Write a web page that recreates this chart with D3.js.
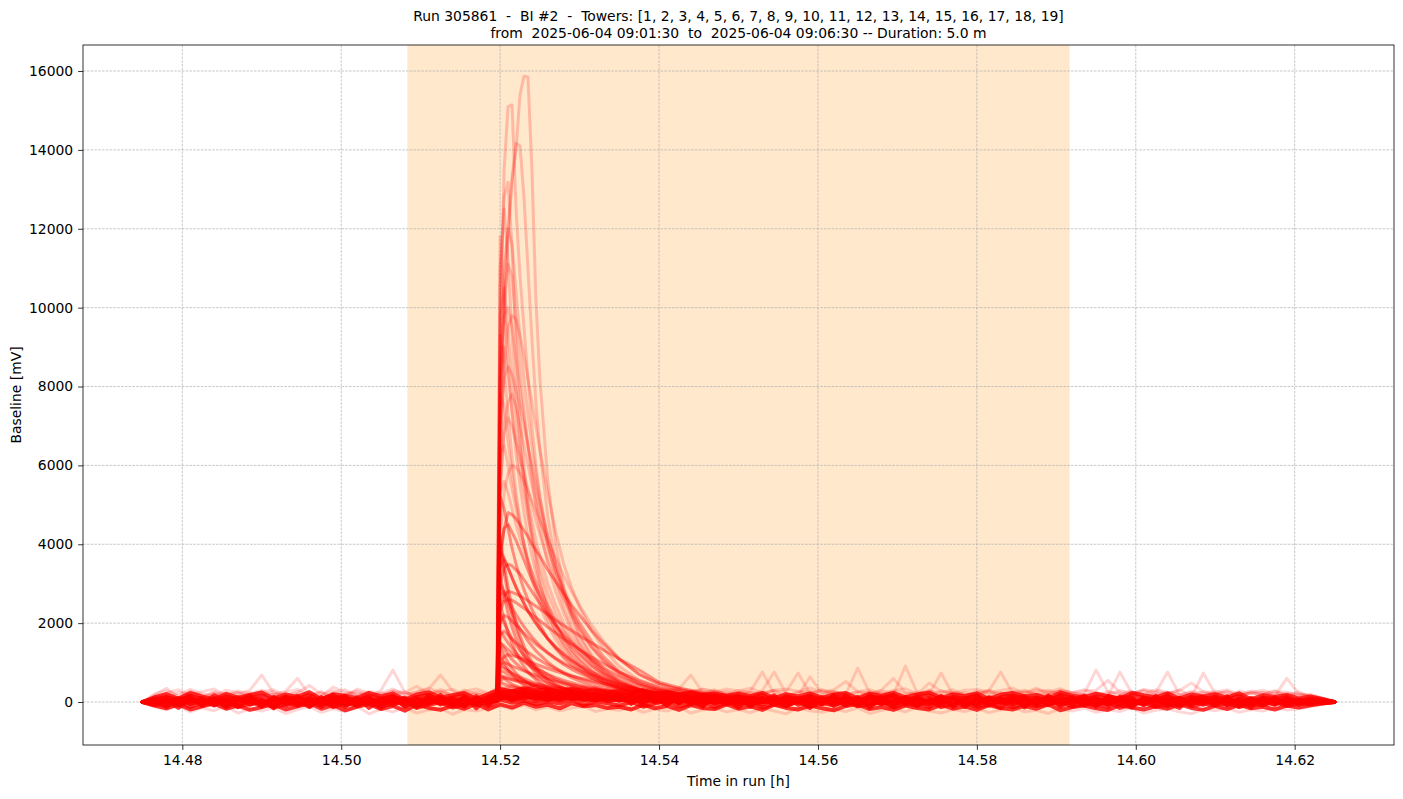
<!DOCTYPE html>
<html>
<head>
<meta charset="utf-8">
<script src="https://cdn.jsdelivr.net/npm/d3@7"></script>
<style>
  html, body { margin: 0; padding: 0; background: #fff; }
  svg text { font-family: "DejaVu Sans", sans-serif; fill: #000; }
</style>
</head>
<body>
<svg id="chart" width="1403" height="799"></svg>
<script>
// ---------------- DATA ----------------
const titleLine1 = "Run 305861  -  BI #2  -  Towers: [1, 2, 3, 4, 5, 6, 7, 8, 9, 10, 11, 12, 13, 14, 15, 16, 17, 18, 19]";
const titleLine2 = "from  2025-06-04 09:01:30  to  2025-06-04 09:06:30 -- Duration: 5.0 m";
const xLabel = "Time in run [h]";
const yLabel = "Baseline [mV]";

const xTicks = [14.48, 14.50, 14.52, 14.54, 14.56, 14.58, 14.60, 14.62];
const yTicks = [0, 2000, 4000, 6000, 8000, 10000, 12000, 14000, 16000];

// shaded interval (time in run, h): 09:01:30 -> 09:06:30
const spanStart = 14.50833;
const spanEnd = 14.59167;

// baseline sample times: 14.475 h to 14.625 h every 0.0015 h (101 samples)
const baseStart = 14.475, baseStep = 0.0015, baseCount = 101;

// core baseline channels (mV)
const base1 = [0,40,-60,80,-30,110,-90,50,120,-70, 30,-110,90,10,-80,130,-40,70,-100,60, -20,100,-120,40,90,-60,20,-90,110,-30, 150,60,180,20,140,90,170,30,120,80, 130,-20,110,60,-50,100,20,120,-40,70, 10,-90,80,-30,110,-70,40,90,-100,50, -20,120,-60,30,100,-110,60,-30,90,-80, 20,110,-50,70,-100,40,130,-20,80,-90, 50,-60,100,-10,70,-120,30,90,-50,60, -80,110,-30,40,-90,70,-40,50,-20,30,0];
const base2 = [0,-50,70,-20,100,-100,60,-40,90,20, -120,80,-30,110,40,-70,100,-90,30,120, -60,50,90,-100,10,130,-50,80,-20,60, 220,120,90,160,60,130,100,150,40,110, 70,120,10,90,130,-30,80,40,110,-60, 90,30,-70,120,-20,60,100,-50,80,-90, 40,-40,110,-80,20,90,-30,120,-60,50, -100,80,30,-70,110,-40,60,-90,100,10, -50,120,-80,40,-30,90,-110,60,20,-70, 100,-20,70,-60,80,-30,50,-40,30,-10,0];
const base3 = [0,20,110,-80,40,-20,90,-110,30,70, -40,60,-90,20,120,-50,-10,100,-70,40, 80,-30,20,-80,120,-20,70,30,-60,90, 80,190,140,110,40,160,70,100,140,20, 100,50,130,-10,80,60,-40,110,30,90, -60,60,110,-40,50,90,-80,30,120,-20, 70,-90,50,130,-30,80,10,-70,110,40, -60,90,-20,120,-80,30,-40,100,-10,60, 110,-40,20,-100,80,40,-60,110,-30,70, 30,-70,90,-20,50,-60,80,-30,40,-20,0];
const base4 = [0,-40,-100,20,-130,-10,-70,30,-120,-50, 10,-140,-60,-20,-110,40,-130,-30,-80,0, -120,-40,20,-150,-70,-10,-140,-50,30,-100, 60,-20,40,-60,20,-40,70,-80,10,-30, -90,0,-120,-40,30,-110,-60,10,-130,-20, -70,20,-140,-50,-100,10,-120,-30,-80,20, -110,-60,0,-140,-40,-90,20,-130,-50,-10, -120,-70,10,-140,-30,-100,-60,20,-130,-40, -80,0,-150,-60,-20,-120,-70,10,-110,-40, -90,-20,-130,-50,-80,0,-100,-40,-60,-20,0];
const base5 = [0,70,130,50,150,80,20,140,60,110, 160,40,120,90,170,30,130,100,50,150, 90,140,30,120,170,60,110,150,20,130, 250,280,230,260,200,240,190,230,170,210, 160,200,130,180,110,170,90,150,120,60, 140,100,170,40,130,90,160,70,120,150, 30,140,100,160,60,120,170,50,130,90, 150,20,120,160,80,110,40,170,100,60, 140,90,30,160,110,70,150,40,120,90, 130,60,150,20,110,80,120,40,90,50,0];
const base6 = [0,10,50,-30,70,10,-60,40,-20,90, -70,20,60,-50,10,80,-100,50,0,-40, 70,-80,40,10,-40,90,-70,20,60,-50, 100,260,210,180,150,190,120,160,90,140, 50,110,80,30,120,-10,70,90,-30,60, 20,-50,90,40,-60,80,-20,60,10,-70, 90,0,-50,70,20,-80,100,-10,40,-60, 60,-30,80,-10,50,-70,90,0,-40,70, -20,50,-60,80,-40,30,90,-50,20,-10, 60,-40,20,-70,50,0,-50,30,-10,20,0];
const base7 = [0,-20,30,-70,20,60,-40,100,-80,10, 50,-30,100,-60,60,-20,40,-120,80,-10, 30,60,-50,90,-30,40,100,-100,70,10, 120,90,200,70,170,40,140,60,90,120, 30,90,-20,120,50,20,100,-50,80,10, 60,-30,20,80,-100,40,70,-40,50,100, -60,60,-20,10,80,-40,30,70,-90,100, 40,-50,100,-30,20,80,-80,60,30,-20, 90,-70,60,10,-60,100,-20,-70,80,20, -40,70,-90,50,10,-70,60,10,-40,20,0];
const base8 = [0,60,-10,100,-50,40,80,-90,70,30, -60,110,20,-100,70,0,50,30,-50,90, -40,20,110,-60,50,0,-30,120,-80,40, 180,40,120,140,90,60,200,80,40,150, 110,30,60,140,0,120,50,80,60,110, 40,110,0,90,60,-20,110,20,-40,80, 50,90,130,-40,60,40,-70,90,70,20, -30,120,50,30,90,-50,100,40,130,-60, 70,20,110,-60,90,-20,60,100,-70,90, 20,80,-50,100,-30,90,-10,70,30,40,0];
const base9 = [0,90,-120,60,150,-80,100,-140,40,170, -100,130,-20,160,-130,70,180,-60,120,-150, 50,160,-110,90,-40,180,-90,130,-160,100, 260,150,300,180,240,120,270,160,210,90, 200,-50,180,100,-90,160,40,-120,150,60, -140,120,20,170,-110,60,150,-60,180,-30, 130,-150,90,180,-70,140,-20,160,-130,80, 170,-90,40,150,-140,110,-30,180,-80,130, -120,160,60,-140,120,-50,170,-100,70,140, -60,150,-110,90,-40,120,-80,60,-50,40,0];
const base10 = [0,-80,40,-150,90,-40,170,20,-130,110, 60,-160,140,-70,30,-120,80,150,-100,20, -150,120,60,-130,170,-40,40,-120,150,-80, 190,80,230,120,280,110,190,240,60,180, 40,160,-60,130,190,-30,110,-100,170,40, 160,-120,90,-70,140,30,-150,120,-40,160, -90,170,40,-120,130,-10,-140,120,60,-130, 110,-10,-160,90,150,-80,170,-120,40,160, -60,-130,140,110,-90,160,-40,-150,120,-20, 130,-90,50,-140,110,-30,90,-70,60,-30,0];
const base11 = [0,120,200,80,230,140,60,210,110,180, 240,90,190,130,250,70,200,160,100,230, 140,220,60,190,250,110,170,230,80,200, 330,270,350,300,320,260,340,280,300,250, 270,230,290,210,250,190,240,180,220,160, 210,150,230,100,200,140,220,110,190,230, 90,210,160,230,120,190,240,100,200,150, 220,80,190,230,140,180,90,240,160,120, 210,150,90,230,170,120,220,90,190,140, 200,110,220,70,170,130,180,90,140,80,0];
const base12 = [0,-90,-160,-60,-190,-110,-40,-170,-90,-200, -130,-60,-190,-110,-30,-170,-80,-210,-120,-50, -180,-100,-220,-60,-150,-200,-90,-170,-40,-190, -60,-140,-20,-120,-70,-160,-30,-110,-80,-150, -120,-190,-70,-160,-100,-200,-80,-150,-180,-60, -170,-110,-200,-70,-150,-190,-90,-160,-210,-100, -60,-180,-130,-200,-90,-150,-190,-70,-170,-110, -200,-80,-150,-190,-100,-170,-60,-210,-130,-90, -160,-200,-80,-140,-190,-110,-170,-60,-150,-200, -100,-180,-70,-160,-120,-190,-90,-140,-80,-40,0];

// noisier channels (faint fringe and occasional spikes), mV
const noisy1 = [0,180,350,120,200,60,220,140,250,90, 180,260,100,200,150,270,60,190,240,110, 300,810,250,140,210,320,160,230,90,180, 350,290,410,300,370,260,330,280,350,250, 300,220,280,190,260,330,685,240,200,270, 160,250,210,300,120,230,280,170,260,200, 860,240,150,280,220,190,310,130,250,200, 170,290,110,240,300,160,230,270,140,210, 810,250,180,280,130,230,200,310,150,260, 190,120,280,200,240,150,600,220,160,90,0];
const noisy2 = [0,120,200,90,280,150,230,100,190,300, 685,220,140,260,180,90,240,310,160,200, 110,270,190,240,330,685,280,150,210,130, 280,380,320,400,290,350,310,380,270,330, 240,290,200,260,310,180,250,210,290,160, 230,270,760,200,150,270,220,300,180,240, 130,260,210,180,910,230,140,290,200,160, 270,190,240,120,280,210,160,300,230,180, 240,150,760,220,280,170,250,200,130,735, 210,260,140,230,180,290,150,200,120,80,0];
const noisy3 = [0,150,90,240,170,110,260,190,80,230, 140,200,270,600,180,240,120,210,280,150, 230,170,260,110,190,250,140,300,200,160, 330,270,350,420,300,280,360,310,240,300, 270,320,230,290,250,200,280,220,310,190, 250,180,290,760,210,160,640,230,270,190, 240,170,290,210,150,260,200,735,180,240, 190,280,760,220,160,250,300,170,230,200, 150,270,210,190,300,230,760,180,250,160, 280,200,140,250,190,230,170,260,110,60,0];
const noisy4 = [0,200,280,160,320,210,140,300,230,180, 260,310,170,240,420,200,280,150,330,220, 180,290,240,400,200,270,320,190,250,210, 300,430,360,310,390,340,290,370,320,280, 310,260,340,280,230,300,250,330,270,220, 290,230,200,280,260,735,210,310,240,190, 270,220,300,600,240,190,280,230,310,170, 250,300,190,270,230,350,200,280,240,310, 220,190,290,240,200,310,250,180,270,230, 200,260,170,240,300,190,230,160,200,100,0];
const noisy5 = [0,-120,-200,-90,-250,-150,-220,-100,-280,-170, -230,-140,-290,-190,-120,-260,-170,-240,-110,-300, -180,-250,-140,-280,-200,-160,-310,-190,-230,-150, -100,-180,-80,-200,-130,-220,-150,-110,-240,-170, -210,-140,-260,-180,-230,-120,-280,-200,-150,-250, -190,-270,-160,-230,-300,-140,-220,-260,-180,-240, -150,-290,-210,-170,-250,-130,-230,-280,-190,-240, -160,-270,-200,-130,-250,-210,-290,-170,-230,-150, -260,-190,-240,-140,-280,-210,-170,-250,-300,-180, -220,-150,-260,-190,-230,-140,-200,-170,-120,-60,0];
const noisy6 = [0,100,230,310,190,260,330,170,280,220, 300,170,250,320,200,150,380,240,190,270, 220,330,180,260,350,240,190,280,330,230, 400,340,300,450,360,330,410,290,380,350, 320,370,290,340,300,360,270,320,250,330, 280,350,240,300,330,270,360,250,310,520, 260,310,220,290,340,200,480,270,230,300, 320,240,290,350,210,310,260,340,230,280, 300,550,250,210,320,270,230,290,480,260, 240,310,200,280,230,270,250,190,160,80,0];

// pulse samples around the event (time in run, h)
const pulseT = [14.5185,14.5196,14.5200,14.5205,14.5210,14.5215,14.5220,14.5225,14.5230,14.5235,14.5240,14.5245,14.5250,14.5260,14.5270,14.5280,14.5290,14.5300,14.5315,14.5330,14.5350,14.5375,14.5400,14.5430,14.5460,14.5500,14.5550,14.5600];

// large pulse channels (mV) at pulseT
const pulse1  = [0,60,6000,9500,11800,13200,14000,15400,15870,15850,13500,10200,8200,5600,4000,2900,2200,1700,1200,850,560,360,250,170,120,80,50,30];
const pulse2  = [0,80,9000,13500,15100,15140,12500,10800,9500,8200,7000,6000,5200,4000,3100,2400,1900,1500,1050,750,500,320,220,150,100,70,40,20];
const pulse3  = [0,50,7000,10500,12000,13300,14170,14100,12800,11000,9200,7600,6400,4700,3500,2700,2100,1650,1150,820,540,340,230,160,110,70,40,20];
const pulse4  = [0,40,10500,12800,13180,11500,9000,7200,6000,5000,4300,3700,3200,2500,2000,1600,1300,1050,780,580,390,250,170,120,80,50,30,10];
const pulse5  = [0,70,11000,12500,11200,9300,7800,6600,5600,4800,4100,3500,3000,2300,1800,1450,1150,950,700,520,350,230,160,110,80,50,30,10];
const pulse6  = [0,30,8000,11000,12000,11600,10400,9200,8200,7300,6500,5800,5200,4200,3400,2800,2300,1900,1400,1050,720,460,300,200,140,90,50,30];
const pulse7  = [0,50,7500,10200,11100,10800,9600,8400,7400,6500,5700,5000,4400,3500,2800,2250,1800,1450,1050,780,520,330,220,150,100,60,40,20];
const pulse8  = [0,40,9800,10500,9400,8200,7200,6400,5700,5100,4600,4100,3700,3000,2450,2000,1650,1350,1000,740,500,320,210,140,90,60,30,10];
const pulse9  = [0,60,6000,8500,9500,9800,9700,9300,8800,8200,7600,7000,6400,5300,4300,3500,2900,2400,1800,1350,900,560,380,250,170,110,60,30];
const pulse10 = [0,30,8200,9000,8300,7400,6600,5900,5300,4700,4200,3800,3400,2750,2250,1850,1520,1250,930,690,460,290,190,130,90,50,30,10];
const pulse11 = [0,50,7000,8200,8500,8300,7900,7500,7000,6500,6000,5500,5000,4200,3500,2900,2400,2000,1550,1150,780,490,320,210,140,90,50,20];
const pulse12 = [0,40,7800,7500,6600,5800,5100,4500,4000,3600,3200,2900,2600,2100,1700,1400,1150,950,700,520,350,220,150,100,70,40,20,10];
const pulse13 = [0,20,5500,6800,7200,7000,6600,6200,5800,5400,5000,4600,4250,3600,3050,2600,2200,1850,1400,1080,740,470,310,200,140,90,50,20];
const pulse14 = [0,30,6300,6500,6000,5400,4900,4400,4000,3600,3300,3000,2700,2200,1800,1500,1250,1050,790,590,400,260,170,120,80,50,30,10];
const pulse15 = [0,40,4200,5300,5800,6000,5950,5800,5600,5350,5100,4850,4600,4100,3650,3200,2800,2450,1950,1550,1100,700,460,290,190,120,70,30];
const pulse30 = [0,50,11800,10200,8600,7300,6300,5500,4800,4200,3700,3300,2950,2400,1950,1600,1320,1100,820,620,420,270,180,120,80,50,30,10];
const pulse31 = [0,40,8500,9800,10000,9500,8700,7900,7200,6500,5900,5350,4850,4000,3300,2700,2250,1850,1380,1030,690,430,280,180,120,80,40,20];
const pulse32 = [0,30,5200,7000,7600,7800,7500,7000,6500,6000,5500,5050,4650,3900,3300,2800,2350,2000,1520,1150,770,480,310,200,130,80,40,20];
const pulse33 = [0,50,5300,5600,5300,4900,4500,4150,3850,3550,3300,3050,2850,2450,2100,1800,1550,1330,1030,790,540,340,220,150,100,60,30,10];
const pulse36 = [0,60,9300,8500,7300,6200,5300,4600,4000,3500,3100,2750,2450,1950,1580,1290,1060,880,660,500,340,220,150,100,70,40,20,10];

// small pulse channels (mV) at pulseT
const pulse16 = [0,50,5200,4900,4400,3900,3500,3150,2850,2600,2350,2150,1950,1600,1350,1120,940,800,610,470,330,220,150,100,70,40,20,10];
const pulse17 = [0,30,3800,4400,4500,4300,4100,3850,3600,3350,3100,2900,2700,2300,1950,1650,1400,1200,920,700,480,310,210,140,90,60,30,10];
const pulse18 = [0,20,4000,3300,2700,2200,1850,1550,1300,1100,950,820,720,560,440,350,290,240,180,140,100,70,50,30,20,10,0,0];
const pulse19 = [0,40,3000,3400,3500,3450,3350,3250,3100,2950,2800,2650,2500,2200,1950,1700,1500,1320,1080,870,640,430,290,190,130,80,40,20];
const pulse20 = [0,30,3000,2800,2500,2250,2050,1850,1700,1550,1420,1300,1200,1010,860,730,620,530,420,330,240,160,110,80,50,30,20,10];
const pulse21 = [0,50,2300,2550,2600,2580,2520,2450,2380,2300,2220,2140,2060,1900,1750,1600,1460,1330,1140,970,760,540,370,240,160,100,50,20];
const pulse22 = [0,20,2200,2000,1800,1600,1450,1300,1180,1070,980,890,820,690,580,500,430,370,300,240,180,120,80,60,40,20,10,0];
const pulse23 = [0,30,1700,1800,1700,1600,1500,1420,1340,1260,1190,1120,1060,940,840,750,670,600,500,420,320,220,150,100,70,40,20,10];
const pulse24 = [0,40,1500,1350,1200,1080,980,890,810,740,680,620,570,480,410,350,300,260,210,170,130,90,60,40,30,20,10,0];
const pulse25 = [0,20,1000,1150,1200,1180,1150,1120,1080,1040,1000,960,920,850,780,720,660,610,540,470,390,300,220,150,100,60,30,10];
const pulse26 = [0,30,1000,900,800,720,650,590,540,490,450,410,380,320,270,230,200,170,140,110,80,60,40,30,20,10,0,0];
const pulse27 = [0,20,800,760,700,640,590,550,510,470,440,410,380,330,290,250,220,190,160,130,100,70,50,30,20,10,0,0];
const pulse28 = [0,40,620,650,610,570,530,500,470,440,410,390,370,330,300,270,240,220,190,160,130,100,70,50,30,20,10,0];
const pulse29 = [0,30,500,460,420,390,360,340,320,300,280,260,250,220,200,180,160,150,130,110,90,70,50,40,30,20,10,0];
const pulse34 = [0,30,3600,4400,4800,4750,4650,4500,4350,4200,4000,3850,3700,3350,3050,2750,2450,2200,1820,1480,1080,700,460,300,190,120,60,30];
const pulse35 = [0,40,3800,3650,3400,3150,2900,2700,2500,2300,2150,2000,1850,1600,1380,1190,1030,890,700,550,390,250,170,110,70,40,20,10];
const pulse37 = [0,30,2400,2700,2800,2780,2740,2690,2630,2570,2500,2430,2360,2220,2080,1940,1810,1680,1500,1320,1090,810,500,340,220,140,70,30];
const pulse38 = [0,40,2500,2100,1750,1480,1250,1060,900,770,660,570,490,370,290,230,180,150,110,80,60,40,30,20,10,0,0,0];
const pulse39 = [0,30,1800,1650,1500,1370,1250,1140,1040,950,870,800,730,620,530,450,390,330,260,200,140,90,60,40,30,20,10,0];
const pulse40 = [0,50,3200,2700,2250,1900,1600,1360,1160,990,850,730,630,480,380,300,240,200,150,110,80,50,40,30,20,10,0,0];
const pulse41 = [0,20,1200,1000,830,700,590,500,430,370,320,280,240,190,150,120,100,80,60,50,40,30,20,10,0,0,0,0];
const pulse42 = [0,40,2000,2200,2150,2050,1950,1850,1750,1650,1560,1470,1390,1240,1110,990,890,800,680,580,450,320,220,150,100,60,30,10];
const pulse43 = [0,30,900,850,790,730,680,630,590,550,510,480,450,390,340,300,260,230,190,150,110,80,60,40,30,20,10,0];
const pulse44 = [0,40,1500,1420,1330,1250,1170,1100,1030,970,910,850,800,700,620,550,490,430,360,300,230,160,110,70,50,30,20,10];
const pulse45 = [0,60,4200,3500,2900,2400,2000,1680,1420,1200,1020,870,750,570,440,350,280,230,170,130,90,60,40,30,20,10,0,0];
const pulse46 = [0,20,550,600,590,570,550,530,510,490,470,450,430,400,370,340,310,290,250,220,180,140,100,70,50,30,20,10];
const pulse47 = [0,30,2700,2800,2600,2400,2220,2060,1910,1780,1650,1540,1430,1250,1090,950,830,730,600,490,360,240,160,110,70,40,20,10];
const pulse48 = [0,50,950,1000,960,910,870,830,790,750,710,680,650,590,530,480,440,400,340,290,220,160,110,70,50,30,20,10];
const pulse49 = [0,40,3400,3600,3400,3150,2920,2700,2500,2320,2150,2000,1860,1610,1400,1220,1060,930,760,620,450,300,200,130,90,50,30,10];
const pulse50 = [0,30,1400,1180,1000,850,730,630,550,480,420,370,330,260,210,170,140,110,80,60,40,30,20,10,0,0,0,0];
const pulse51 = [0,20,700,600,520,450,400,350,310,280,250,220,200,160,130,110,90,80,60,50,40,30,20,10,0,0,0,0];

const coreSeries = [base1, base2, base3, base4, base5, base6, base7, base8, base9, base10, base11, base12];
const noisySeries = [noisy1, noisy2, noisy3, noisy4, noisy5, noisy6];
const largePulses = [pulse1,pulse2,pulse3,pulse4,pulse5,pulse6,pulse7,pulse8,pulse9,pulse10,pulse11,pulse12,pulse13,pulse14,pulse15,pulse30,pulse31,pulse32,pulse33,pulse36];
const smallPulses = [pulse16,pulse17,pulse18,pulse19,pulse20,pulse21,pulse22,pulse23,pulse24,pulse25,pulse26,pulse27,pulse28,pulse29,pulse34,pulse35,pulse37,pulse38,pulse39,pulse40,pulse41,pulse42,pulse43,pulse44,pulse45,pulse46,pulse47,pulse48,pulse49,pulse50,pulse51];

// ---------------- CHART ----------------
const W = 1403, H = 799;
const margin = {left: 83, top: 45, right: 9, bottom: 54};
const iw = W - margin.left - margin.right;
const ih = H - margin.top - margin.bottom;

const baseT = d3.range(baseCount).map(i => baseStart + i * baseStep);

const x = d3.scaleLinear().domain([14.4675, 14.6325]).range([0, iw]);
const y = d3.scaleLinear().domain([-1090, 16660]).range([ih, 0]);

const svg = d3.select("#chart");
svg.append("rect").attr("width", W).attr("height", H).attr("fill", "#fff");

const g = svg.append("g").attr("transform", `translate(${margin.left},${margin.top})`);

g.append("defs").append("clipPath").attr("id", "clip")
  .append("rect").attr("width", iw).attr("height", ih);

// shaded span
g.append("rect")
  .attr("x", x(spanStart)).attr("y", 0)
  .attr("width", x(spanEnd) - x(spanStart)).attr("height", ih)
  .attr("fill", "darkorange").attr("fill-opacity", 0.2);

// grid
g.append("g").selectAll("line").data(xTicks).join("line")
  .attr("x1", d => x(d)).attr("x2", d => x(d)).attr("y1", 0).attr("y2", ih)
  .attr("stroke", "#b0b0b0").attr("stroke-width", 0.7).attr("stroke-dasharray", "2.6,1.2");
g.append("g").selectAll("line").data(yTicks).join("line")
  .attr("y1", d => y(d)).attr("y2", d => y(d)).attr("x1", 0).attr("x2", iw)
  .attr("stroke", "#b0b0b0").attr("stroke-width", 0.7).attr("stroke-dasharray", "2.6,1.2");

// lines
const lines = g.append("g").attr("clip-path", "url(#clip)");
const lineBase = d3.line().x((d, i) => x(baseT[i])).y(d => y(d));
const linePulse = d3.line().x((d, i) => x(pulseT[i])).y(d => y(d));

function draw(cls, data, gen, opacity, width) {
  lines.selectAll("path." + cls).data(data).join("path").attr("class", cls)
    .attr("d", gen).attr("fill", "none").attr("stroke", "red")
    .attr("stroke-opacity", opacity).attr("stroke-width", width)
    .attr("stroke-linejoin", "round").attr("stroke-linecap", "round");
}
draw("noisy", noisySeries, lineBase, 0.16, 3);
draw("core", coreSeries, lineBase, 0.8, 4);
draw("small", smallPulses, linePulse, 0.4, 3);
draw("large", largePulses, linePulse, 0.2, 3);

// axes
const xAxis = d3.axisBottom(x).tickValues(xTicks).tickFormat(d3.format(".2f")).tickSize(4.9).tickPadding(4.9);
const yAxis = d3.axisLeft(y).tickValues(yTicks).tickFormat(d3.format("d")).tickSize(4.9).tickPadding(4.9);

const gx = g.append("g").attr("transform", `translate(0,${ih})`).call(xAxis);
const gy = g.append("g").call(yAxis);
[gx, gy].forEach(a => {
  a.select(".domain").remove();
  a.selectAll("line").attr("stroke", "#000").attr("stroke-width", 0.8);
  a.selectAll("text").attr("font-size", "13.9px").attr("font-family", "DejaVu Sans").attr("fill", "#000");
});

// frame
g.append("rect").attr("width", iw).attr("height", ih)
  .attr("fill", "none").attr("stroke", "#000").attr("stroke-width", 0.8);

// labels
svg.append("text").attr("x", margin.left + iw / 2).attr("y", 786)
  .attr("text-anchor", "middle").attr("font-size", "13.9px").text(xLabel);
svg.append("text").attr("transform", `translate(21,${margin.top + ih / 2}) rotate(-90)`)
  .attr("text-anchor", "middle").attr("font-size", "13.9px").text(yLabel);

// title
svg.append("text").attr("x", margin.left + iw / 2).attr("y", 21)
  .attr("text-anchor", "middle").attr("font-size", "13.9px")
  .style("white-space", "pre").text(titleLine1);
svg.append("text").attr("x", margin.left + iw / 2).attr("y", 38)
  .attr("text-anchor", "middle").attr("font-size", "13.9px")
  .style("white-space", "pre").text(titleLine2);
</script>
</body>
</html>
